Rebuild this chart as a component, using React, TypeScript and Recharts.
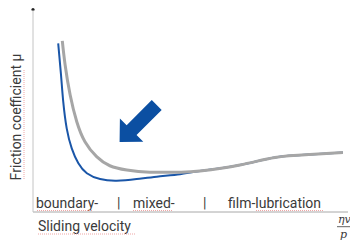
import React from 'react';
import { LineChart, Line, XAxis, YAxis, ReferenceDot, Customized } from 'recharts';

// Schematic Stribeck curve (arbitrary units: velocity 0-100, friction 0-100)
const blueX = [8.0, 8.9, 9.6, 10.7, 12.3, 14.4, 17.1, 21.3, 26.6, 32.9, 39.3, 46.7, 53.0, 65.7, 76.8, 87.9, 98.4];
const blueY = [83.5, 67.8, 54.6, 41.4, 31.5, 24.1, 19.2, 16.3, 15.5, 16.3, 17.5, 18.7, 20.3, 23.3, 27.0, 28.5, 29.4];
const grayX = [9.3, 10.2, 11.8, 13.9, 16.5, 20.2, 24.4, 29.8, 37.1, 46.7, 53.0, 65.7, 76.8, 87.9, 98.4];
const grayY = [84.7, 72.8, 57.9, 44.7, 34.8, 27.4, 22.9, 20.8, 19.7, 19.7, 20.3, 23.3, 27.0, 28.5, 29.4];
const regimeLabels = ['boundary-', '|', 'mixed-', '|', 'film-lubrication'];
const arrowPos = { x: 34, y: 45 };

const blueData = blueX.map((x, i) => ({ x, y: blueY[i] }));
const grayData = grayX.map((x, i) => ({ x, y: grayY[i] }));

const TXT = '#3a3a3a';
const FONT = 'Roboto, sans-serif';
const SQ = { stroke: '#eea5a5', strokeWidth: 1, strokeDasharray: '1 1' };

const Arrow = (props: any) => {
  const { cx, cy } = props;
  const pts = [
    [-20.5, 21], [3.2, 20.7], [-3.55, 13.95], [21.57, -11.17],
    [11.67, -21.07], [-13.45, 4.05], [-20.2, -2.7],
  ].map(([dx, dy]) => `${cx + dx},${cy + dy}`).join(' ');
  return <polygon points={pts} fill="#0b4fa2" />;
};

const Overlay = () => {
  const xs = [36, 117, 133, 203, 228];
  return (
    <g>
      <circle cx={33} cy={9.5} r={1.6} fill="#222" />
      {regimeLabels.map((t, i) => (
        <text key={i} x={xs[i]} y={208} fontSize={14} fontFamily={FONT} fill={TXT}>{t}</text>
      ))}
      <text x={38} y={231} fontSize={14} fontFamily={FONT} fill={TXT}>Sliding velocity</text>
      <text x={21} y={117} fontSize={14} fontFamily={FONT} fill={TXT} textAnchor="middle" transform="rotate(-90 21 117)">Friction coefficient μ</text>
      <text x={338} y={223} fontSize={11} fontFamily="'DejaVu Serif', serif" fontStyle="italic" fill={TXT}>ηv</text>
      <line x1={337} x2={352} y1={226.7} y2={226.7} stroke={TXT} strokeWidth={0.8} />
      <text x={340} y={238} fontSize={11} fontFamily="'DejaVu Serif', serif" fontStyle="italic" fill={TXT}>p</text>
      <line x1={37} x2={93} y1={210.5} y2={210.5} {...SQ} />
      <line x1={133} x2={172} y1={210.5} y2={210.5} {...SQ} />
      <line x1={256} x2={323} y1={210.5} y2={210.5} {...SQ} />
      <line x1={38} x2={135} y1={234} y2={234} {...SQ} />
      <line x1={24} x2={24} y1={70} y2={180} {...SQ} />
    </g>
  );
};

export default function App() {
  return (
    <div style={{ position: 'absolute', left: 0, top: 0, width: 350, height: 245, background: '#fff' }}>
      <LineChart width={350} height={245} margin={{ top: 10, right: 2, left: 0, bottom: 3 }}>
        <XAxis dataKey="x" type="number" domain={[0, 100]} tick={false} tickLine={false} axisLine={{ stroke: '#a8a8a8' }} height={30} />
        <YAxis type="number" domain={[0, 100]} tick={false} tickLine={false} axisLine={{ stroke: '#c4c4c4' }} width={33} />
        <Line data={blueData} dataKey="y" type="natural" stroke="#1a56a8" strokeWidth={2} dot={false} isAnimationActive={false} />
        <Line data={grayData} dataKey="y" type="natural" stroke="#a6a6a6" strokeWidth={3} dot={false} isAnimationActive={false} />
        <ReferenceDot x={arrowPos.x} y={arrowPos.y} r={0} shape={Arrow} />
        <Customized component={<Overlay />} />
      </LineChart>
    </div>
  );
}
